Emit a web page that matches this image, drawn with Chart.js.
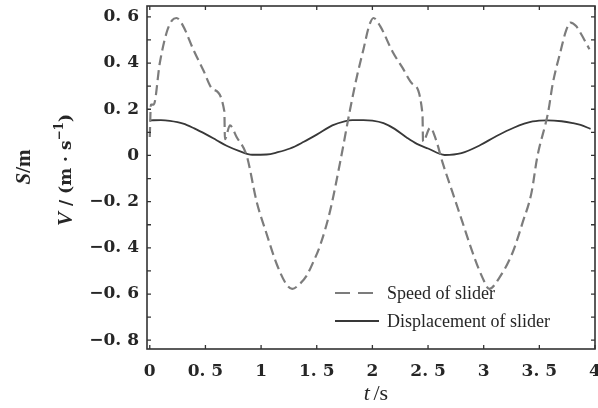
<!DOCTYPE html>
<html>
<head>
<meta charset="utf-8">
<script src="https://cdn.jsdelivr.net/npm/chart.js@4"></script>
<style>
  html, body { margin: 0; padding: 0; background: #ffffff; }
  #wrap { width: 598px; height: 408px; }
</style>
</head>
<body>
<div id="wrap"><canvas id="c" width="598" height="408"></canvas></div>
<script>
// ---- data ----
const speedT = [0, 0.01, 0.035, 0.09, 0.15, 0.2, 0.24, 0.3, 0.39, 0.48, 0.57, 0.67, 0.675, 0.72, 0.78, 0.87, 0.96, 1.05, 1.14, 1.23, 1.28, 1.35, 1.41, 1.47, 1.53, 1.62, 1.71, 1.8, 1.86, 1.92, 1.97, 2.01, 2.07, 2.18, 2.27, 2.36, 2.45, 2.455, 2.52, 2.57, 2.63, 2.72, 2.81, 2.9, 2.99, 3.05, 3.14, 3.26, 3.35, 3.43, 3.48, 3.58, 3.62, 3.69, 3.74, 3.78, 3.83, 3.87, 3.95];
const speed  = [0.08, 0.22, 0.22, 0.4, 0.53, 0.585, 0.595, 0.56, 0.46, 0.37, 0.285, 0.19, 0.07, 0.13, 0.08, 0.0, -0.2, -0.34, -0.47, -0.56, -0.578, -0.555, -0.52, -0.46, -0.39, -0.24, -0.03, 0.2, 0.34, 0.46, 0.56, 0.595, 0.56, 0.45, 0.38, 0.31, 0.18, 0.06, 0.12, 0.07, -0.03, -0.16, -0.29, -0.42, -0.53, -0.578, -0.53, -0.42, -0.29, -0.16, -0.01, 0.19, 0.31, 0.45, 0.54, 0.575, 0.56, 0.53, 0.46];

const dispT = [0, 0.1, 0.18, 0.3, 0.4, 0.51, 0.6, 0.69, 0.8, 0.92, 1.05, 1.15, 1.26, 1.38, 1.5, 1.64, 1.75, 1.82, 1.92, 2.0, 2.1, 2.2, 2.31, 2.4, 2.5, 2.65, 2.8, 2.97, 3.1, 3.27, 3.44, 3.57, 3.7, 3.8, 3.87, 3.96];
const disp  = [0.152, 0.153, 0.15, 0.138, 0.117, 0.09, 0.066, 0.042, 0.02, 0.003, 0.004, 0.014, 0.03, 0.058, 0.09, 0.13, 0.148, 0.153, 0.153, 0.151, 0.14, 0.115, 0.077, 0.05, 0.03, 0.002, 0.01, 0.045, 0.08, 0.12, 0.147, 0.152, 0.148, 0.14, 0.132, 0.115];

const seriesNames = ['Speed of slider', 'Displacement of slider'];
const xTicks = [0, 0.5, 1, 1.5, 2, 2.5, 3, 3.5, 4];
const yTicks = [-0.8, -0.6, -0.4, -0.2, 0, 0.2, 0.4, 0.6];
const yMinorTicks = [-0.8, -0.7, -0.6, -0.5, -0.4, -0.3, -0.2, -0.1, 0, 0.1, 0.2, 0.3, 0.4, 0.5, 0.6];
const xTitle = ['t', '/s'];
const yTitleS = ['S', '/m'];
const yTitleV = ['V', ' / (m · s', '−1', ')'];

// ---- helpers ----
function fmt(v) {
  if (Math.abs(v) < 1e-9) return '0';
  const s = Math.abs(v).toString().replace('.', '. ');
  return (v < 0 ? '−' : '') + s;
}
const pts = (xs, ys) => xs.map((x, i) => ({ x: x, y: ys[i] }));

const INK = '#262626';

function drawPieces(ctx, pieces, cx, cy, rotate) {
  ctx.save();
  ctx.translate(cx, cy);
  if (rotate) ctx.rotate(-Math.PI / 2);
  ctx.textBaseline = 'middle';
  ctx.fillStyle = INK;
  let total = 0;
  pieces.forEach(p => { ctx.font = p.font; total += ctx.measureText(p.text).width; });
  let x = -total / 2;
  pieces.forEach(p => {
    ctx.font = p.font;
    ctx.textAlign = 'left';
    ctx.fillText(p.text, x, p.dy || 0);
    x += ctx.measureText(p.text).width;
  });
  ctx.restore();
}

const decor = {
  id: 'decor',
  afterDatasetsDraw(chart) {
    const ctx = chart.ctx;
    const a = chart.chartArea;
    const xs = chart.scales.x, ys = chart.scales.y;
    ctx.save();
    // frame
    ctx.strokeStyle = '#333';
    ctx.lineWidth = 1.6;
    ctx.strokeRect(a.left, a.top, a.right - a.left, a.bottom - a.top);
    // inward ticks
    ctx.lineWidth = 1.3;
    ctx.beginPath();
    yMinorTicks.forEach(v => {
      const py = ys.getPixelForValue(v);
      ctx.moveTo(a.left, py); ctx.lineTo(a.left + 4, py);
      ctx.moveTo(a.right, py); ctx.lineTo(a.right - 4, py);
    });
    xTicks.forEach(v => {
      const px = xs.getPixelForValue(v);
      ctx.moveTo(px, a.bottom); ctx.lineTo(px, a.bottom - 4);
      ctx.moveTo(px, a.top); ctx.lineTo(px, a.top + 4);
    });
    ctx.stroke();

    // legend (inside plot, lower right)
    const ds = chart.data.datasets;
    const lx0 = 335, lx1 = 379, ly = [293, 321];
    ds.forEach((d, i) => {
      ctx.beginPath();
      ctx.strokeStyle = d.borderColor;
      ctx.lineWidth = d.borderWidth;
      ctx.setLineDash(i === 0 ? [15, 8] : []);
      ctx.moveTo(lx0, ly[i]); ctx.lineTo(lx1, ly[i]);
      ctx.stroke();
      ctx.setLineDash([]);
      ctx.fillStyle = INK;
      ctx.font = '18px "Liberation Serif"';
      ctx.textAlign = 'left';
      ctx.textBaseline = 'middle';
      ctx.fillText(d.label, 387, ly[i] + 1);
    });
    ctx.restore();

    // axis titles
    drawPieces(ctx, [
      { text: xTitle[0], font: 'italic 22px "Liberation Serif"' },
      { text: ' ', font: '14px "Liberation Serif"' },
      { text: xTitle[1], font: '22px "Liberation Serif"' }
    ], 376, 394, false);
    drawPieces(ctx, [
      { text: yTitleS[0], font: 'italic bold 21px "Liberation Serif"' },
      { text: yTitleS[1], font: 'bold 21px "Liberation Serif"' }
    ], 25, 167, true);
    drawPieces(ctx, [
      { text: yTitleV[0], font: 'italic bold 21px "Liberation Serif"' },
      { text: yTitleV[1], font: 'bold 17px "DejaVu Serif"' },
      { text: yTitleV[2], font: 'bold 12px "DejaVu Serif"', dy: -7 },
      { text: yTitleV[3], font: 'bold 17px "DejaVu Serif"' }
    ], 67, 170, true);
  }
};

new Chart(document.getElementById('c'), {
  type: 'line',
  data: {
    datasets: [
      {
        label: seriesNames[0],
        data: pts(speedT, speed),
        borderColor: '#7c7c7c',
        borderWidth: 2.2,
        borderDash: [10, 5],
        pointRadius: 0,
        fill: false,
        cubicInterpolationMode: 'monotone'
      },
      {
        label: seriesNames[1],
        data: pts(dispT, disp),
        borderColor: '#383838',
        borderWidth: 1.8,
        pointRadius: 0,
        fill: false,
        cubicInterpolationMode: 'monotone'
      }
    ]
  },
  options: {
    responsive: false,
    animation: false,
    layout: { padding: { top: 6, right: 3, left: 0, bottom: 0 } },
    plugins: { legend: { display: false }, tooltip: { enabled: false } },
    scales: {
      x: {
        type: 'linear',
        min: -0.025,
        max: 4,
        afterBuildTicks: s => { s.ticks = xTicks.map(v => ({ value: v })); },
        afterFit: s => { s.height = 59; s.paddingLeft = 0; s.paddingRight = 0; },
        grid: { display: false, drawTicks: false },
        border: { display: false },
        ticks: {
          padding: 12,
          color: INK,
          font: { family: '"DejaVu Serif"', size: 17, weight: 'bold' },
          callback: v => fmt(v),
          maxRotation: 0,
          autoSkip: false
        }
      },
      y: {
        type: 'linear',
        min: -0.838,
        max: 0.647,
        afterBuildTicks: s => { s.ticks = yTicks.map(v => ({ value: v })); },
        afterFit: s => { s.width = 147; s.paddingTop = 0; s.paddingBottom = 0; },
        grid: { display: false, drawTicks: false },
        border: { display: false },
        ticks: {
          padding: 8,
          color: INK,
          font: { family: '"DejaVu Serif"', size: 17, weight: 'bold' },
          callback: v => fmt(v),
          autoSkip: false
        }
      }
    }
  },
  plugins: [decor]
});
</script>
</body>
</html>
